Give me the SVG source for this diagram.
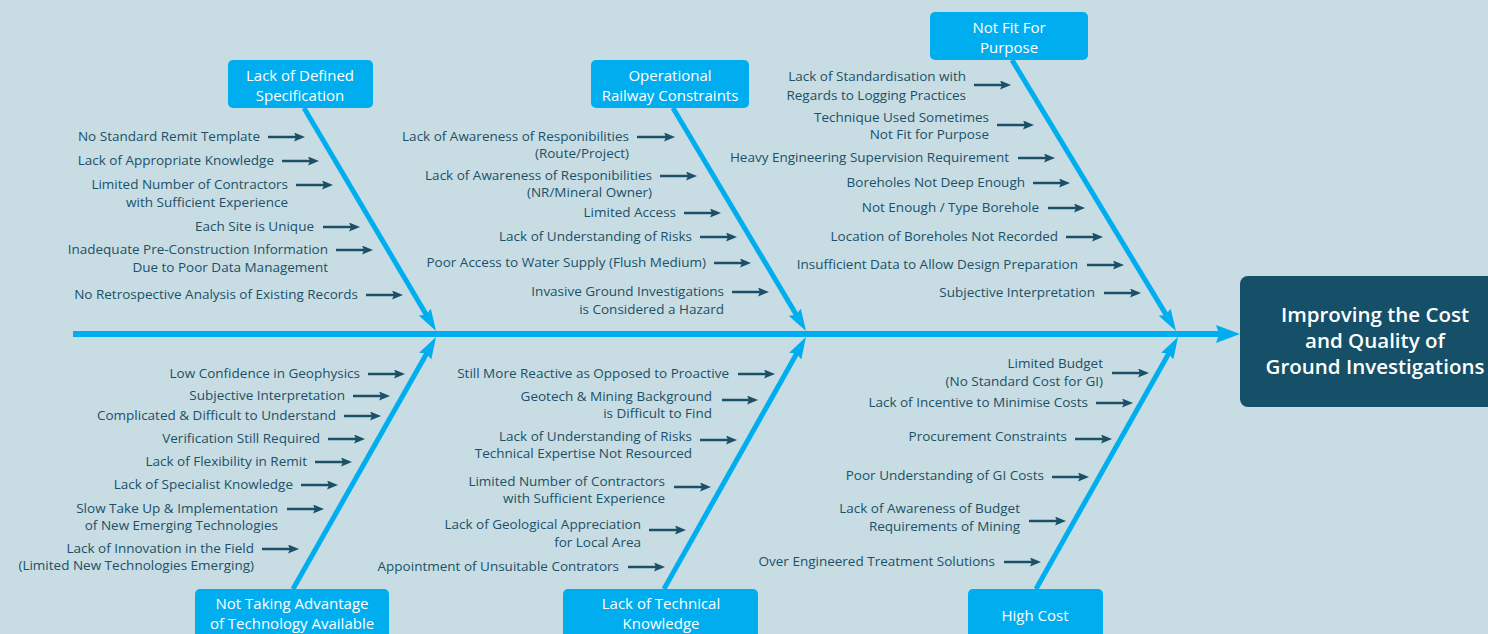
<svg xmlns="http://www.w3.org/2000/svg" width="1488" height="634" viewBox="0 0 1488 634">
<style>
.t{font-family:"Open Sans","Noto Sans",sans-serif;font-size:13.5px;fill:#1c5068;text-anchor:end}
.nt{font-family:"Open Sans","Noto Sans",sans-serif;font-size:15px;fill:#ffffff;text-anchor:middle}
.mt{font-family:"Open Sans","Noto Sans",sans-serif;font-size:20.5px;font-weight:600;fill:#ffffff;text-anchor:middle}
.nb{fill:#00aeef}
.br{stroke:#00aeef;stroke-width:5;fill:none;marker-end:url(#bh)}
.a{stroke:#1c5068;stroke-width:2.5;marker-end:url(#sh)}
</style>
<defs>
<marker id="bh" markerUnits="userSpaceOnUse" viewBox="0 0 22 14" markerWidth="22" markerHeight="14" refX="12" refY="7" orient="auto"><path d="M0,0 L22,7 L0,14 L3,7 z" fill="#00aeef"/></marker>
<marker id="mh" markerUnits="userSpaceOnUse" viewBox="0 0 24 18" markerWidth="24" markerHeight="18" refX="10" refY="9" orient="auto"><path d="M0,0 L24,9 L0,18 L3,9 z" fill="#00aeef"/></marker>
<marker id="sh" markerUnits="userSpaceOnUse" viewBox="0 0 11 9" markerWidth="11" markerHeight="9" refX="5" refY="4.5" orient="auto"><path d="M0,0 L11,4.5 L0,9 L2,4.5 z" fill="#1c5068"/></marker>
</defs>
<rect width="1488" height="634" fill="#c7dde3"/>

<g id="connectors">
<line x1="73" y1="334" x2="1226" y2="334" stroke="#00aeef" stroke-width="6" marker-end="url(#mh)"/>
<line class="br" x1="304" y1="108" x2="430.9" y2="322.4"/>
<line class="br" x1="673" y1="108" x2="800.9" y2="322.4"/>
<line class="br" x1="1012" y1="60" x2="1170.8" y2="322.4"/>
<line class="br" x1="293" y1="589" x2="431.1" y2="345.7"/>
<line class="br" x1="664" y1="589" x2="801.1" y2="345.7"/>
<line class="br" x1="1036" y1="589" x2="1173.1" y2="345.7"/>
</g>

<g id="effect">
<rect x="1240" y="276" width="260" height="131" rx="8" fill="#155068"/>
<text class="mt" x="1375" y="322">Improving the Cost</text>
<text class="mt" x="1375" y="348">and Quality of</text>
<text class="mt" x="1375" y="374">Ground Investigations</text>
</g>

<g id="node-spec">
<rect class="nb" x="228" y="60" width="145" height="48" rx="5"/>
<text class="nt" x="300" y="81">Lack of Defined</text>
<text class="nt" x="300" y="101">Specification</text>
</g>
<g id="node-railway">
<rect class="nb" x="591" y="60" width="158" height="48" rx="5"/>
<text class="nt" x="670" y="81">Operational</text>
<text class="nt" x="670" y="101">Railway Constraints</text>
</g>
<g id="node-fit">
<rect class="nb" x="930" y="12" width="158" height="48" rx="5"/>
<text class="nt" x="1009" y="33">Not Fit For</text>
<text class="nt" x="1009" y="53">Purpose</text>
</g>
<g id="node-tech">
<rect class="nb" x="195" y="589" width="194" height="60" rx="5"/>
<text class="nt" x="292" y="609">Not Taking Advantage</text>
<text class="nt" x="292" y="629">of Technology Available</text>
</g>
<g id="node-knowledge">
<rect class="nb" x="563" y="589" width="195" height="60" rx="5"/>
<text class="nt" x="661" y="609">Lack of Technical</text>
<text class="nt" x="661" y="629">Knowledge</text>
</g>
<g id="node-cost">
<rect class="nb" x="968" y="589" width="135" height="60" rx="5"/>
<text class="nt" x="1035" y="621">High Cost</text>
</g>

<g id="causes-spec">
<text class="t" x="260" y="141">No Standard Remit Template</text>
<line class="a" x1="268" y1="137" x2="299" y2="137"/>
<text class="t" x="274" y="165">Lack of Appropriate Knowledge</text>
<line class="a" x1="282" y1="161" x2="313" y2="161"/>
<text class="t" x="288" y="189">Limited Number of Contractors</text>
<text class="t" x="288" y="207">with Sufficient Experience</text>
<line class="a" x1="296" y1="185" x2="327" y2="185"/>
<text class="t" x="314" y="231">Each Site is Unique</text>
<line class="a" x1="323" y1="227" x2="354" y2="227"/>
<text class="t" x="328" y="254">Inadequate Pre-Construction Information</text>
<text class="t" x="328" y="272">Due to Poor Data Management</text>
<line class="a" x1="336" y1="250" x2="367" y2="250"/>
<text class="t" x="358" y="299">No Retrospective Analysis of Existing Records</text>
<line class="a" x1="366" y1="295" x2="397" y2="295"/>
</g>

<g id="causes-railway">
<text class="t" x="629" y="141">Lack of Awareness of Responibilities</text>
<text class="t" x="629" y="158">(Route/Project)</text>
<line class="a" x1="637" y1="137" x2="669" y2="137"/>
<text class="t" x="652" y="180">Lack of Awareness of Responibilities</text>
<text class="t" x="652" y="197">(NR/Mineral Owner)</text>
<line class="a" x1="660" y1="176" x2="691" y2="176"/>
<text class="t" x="676" y="217">Limited Access</text>
<line class="a" x1="684" y1="213" x2="715" y2="213"/>
<text class="t" x="692" y="241">Lack of Understanding of Risks</text>
<line class="a" x1="700" y1="237" x2="731" y2="237"/>
<text class="t" x="706" y="267">Poor Access to Water Supply (Flush Medium)</text>
<line class="a" x1="714" y1="263" x2="745" y2="263"/>
<text class="t" x="724" y="296">Invasive Ground Investigations</text>
<text class="t" x="724" y="314">is Considered a Hazard</text>
<line class="a" x1="732" y1="292" x2="763" y2="292"/>
</g>

<g id="causes-fit">
<text class="t" x="966" y="81">Lack of Standardisation with</text>
<text class="t" x="966" y="100">Regards to Logging Practices</text>
<line class="a" x1="974" y1="85" x2="1005" y2="85"/>
<text class="t" x="989" y="122">Technique Used Sometimes</text>
<text class="t" x="989" y="139">Not Fit for Purpose</text>
<line class="a" x1="997" y1="125" x2="1028" y2="125"/>
<text class="t" x="1009" y="162">Heavy Engineering Supervision Requirement</text>
<line class="a" x1="1018" y1="158" x2="1049" y2="158"/>
<text class="t" x="1025" y="187">Boreholes Not Deep Enough</text>
<line class="a" x1="1033" y1="183" x2="1064" y2="183"/>
<text class="t" x="1039" y="212">Not Enough / Type Borehole</text>
<line class="a" x1="1048" y1="208" x2="1079" y2="208"/>
<text class="t" x="1058" y="241">Location of Boreholes Not Recorded</text>
<line class="a" x1="1066" y1="237" x2="1097" y2="237"/>
<text class="t" x="1078" y="269">Insufficient Data to Allow Design Preparation</text>
<line class="a" x1="1087" y1="265" x2="1118" y2="265"/>
<text class="t" x="1095" y="297">Subjective Interpretation</text>
<line class="a" x1="1104" y1="293" x2="1135" y2="293"/>
</g>

<g id="causes-tech">
<text class="t" x="360" y="378">Low Confidence in Geophysics</text>
<line class="a" x1="368" y1="374" x2="399" y2="374"/>
<text class="t" x="345" y="400">Subjective Interpretation</text>
<line class="a" x1="353" y1="396" x2="384" y2="396"/>
<text class="t" x="336" y="420">Complicated &amp; Difficult to Understand</text>
<line class="a" x1="344" y1="416" x2="375" y2="416"/>
<text class="t" x="320" y="443">Verification Still Required</text>
<line class="a" x1="328" y1="439" x2="359" y2="439"/>
<text class="t" x="307" y="466">Lack of Flexibility in Remit</text>
<line class="a" x1="315" y1="462" x2="346" y2="462"/>
<text class="t" x="293" y="489">Lack of Specialist Knowledge</text>
<line class="a" x1="301" y1="485" x2="332" y2="485"/>
<text class="t" x="278" y="513">Slow Take Up &amp; Implementation</text>
<text class="t" x="278" y="530">of New Emerging Technologies</text>
<line class="a" x1="287" y1="509" x2="318" y2="509"/>
<text class="t" x="254" y="553">Lack of Innovation in the Field</text>
<text class="t" x="254" y="570">(Limited New Technologies Emerging)</text>
<line class="a" x1="262" y1="549" x2="293" y2="549"/>
</g>

<g id="causes-knowledge">
<text class="t" x="729" y="378">Still More Reactive as Opposed to Proactive</text>
<line class="a" x1="738" y1="374" x2="769" y2="374"/>
<text class="t" x="712" y="401">Geotech &amp; Mining Background</text>
<text class="t" x="712" y="418">is Difficult to Find</text>
<line class="a" x1="722" y1="400" x2="752" y2="400"/>
<text class="t" x="692" y="441">Lack of Understanding of Risks</text>
<text class="t" x="692" y="458">Technical Expertise Not Resourced</text>
<line class="a" x1="700" y1="440" x2="731" y2="440"/>
<text class="t" x="665" y="486">Limited Number of Contractors</text>
<text class="t" x="665" y="503">with Sufficient Experience</text>
<line class="a" x1="674" y1="487" x2="705" y2="487"/>
<text class="t" x="641" y="529">Lack of Geological Appreciation</text>
<text class="t" x="641" y="547">for Local Area</text>
<line class="a" x1="649" y1="530" x2="680" y2="530"/>
<text class="t" x="619" y="571">Appointment of Unsuitable Contrators</text>
<line class="a" x1="628" y1="567" x2="659" y2="567"/>
</g>

<g id="causes-cost">
<text class="t" x="1103" y="368">Limited Budget</text>
<text class="t" x="1103" y="386">(No Standard Cost for GI)</text>
<line class="a" x1="1112" y1="373" x2="1143" y2="373"/>
<text class="t" x="1088" y="407">Lack of Incentive to Minimise Costs</text>
<line class="a" x1="1096" y1="403" x2="1127" y2="403"/>
<text class="t" x="1067" y="441">Procurement Constraints</text>
<line class="a" x1="1075" y1="439" x2="1106" y2="439"/>
<text class="t" x="1044" y="480">Poor Understanding of GI Costs</text>
<line class="a" x1="1052" y1="477" x2="1083" y2="477"/>
<text class="t" x="1020" y="513">Lack of Awareness of Budget</text>
<text class="t" x="1020" y="531">Requirements of Mining</text>
<line class="a" x1="1029" y1="521" x2="1060" y2="521"/>
<text class="t" x="995" y="566">Over Engineered Treatment Solutions</text>
<line class="a" x1="1004" y1="562" x2="1035" y2="562"/>
</g>
</svg>
